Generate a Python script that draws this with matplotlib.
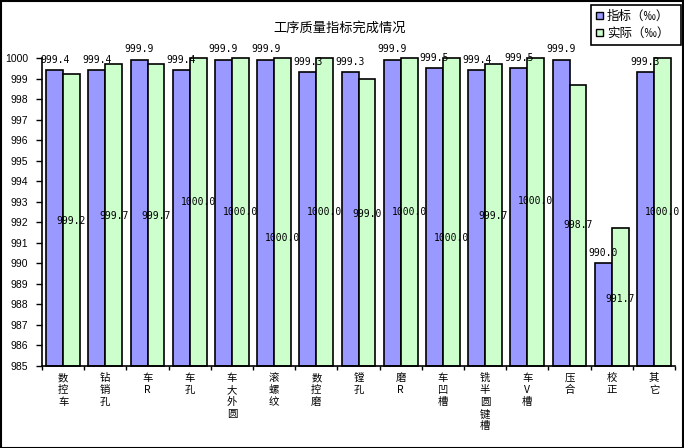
import matplotlib
matplotlib.use("Agg")
import matplotlib.pyplot as plt
from matplotlib.patches import Rectangle, Patch
import numpy as np

plt.rcParams['font.family'] = ['Noto Sans CJK SC', 'DejaVu Sans']

categories = ["数控车", "钻销孔", "车R", "车孔", "车大外圆", "滚螺纹", "数控磨", "镗孔",
              "磨R", "车凹槽", "铣半圆键槽", "车V槽", "压合", "校正", "其它"]
target = [999.4, 999.4, 999.9, 999.4, 999.9, 999.9, 999.3, 999.3,
          999.9, 999.5, 999.4, 999.5, 999.9, 990.0, 999.3]
actual = [999.2, 999.7, 999.7, 1000.0, 1000.0, 1000.0, 1000.0, 999.0,
          1000.0, 1000.0, 999.7, 1000.0, 998.7, 991.7, 1000.0]
series_names = ["指标（‰）", "实际（‰）"]
title = "工序质量指标完成情况"
ymin, ymax = 985, 1000

# manual nudges of the centred "actual" labels, in pixels (positive = down)
actual_label_nudge = [1, 1, 1, -10, 0, 26, 0, -8, 0, 26, 1, -11, 0, 2, 0]

W, H = 684, 448
fig = plt.figure(figsize=(W / 100, H / 100), dpi=100)
ax = fig.add_axes([42 / W, 1 - 366 / H, (675 - 42) / W, (366 - 58) / H])

x = np.arange(len(categories))
bw = 0.4
c1, c2 = "#9999FF", "#CCFFCC"
ax.bar(x - bw / 2, np.array(target) - ymin, bw, bottom=ymin, color=c1,
       edgecolor="black", linewidth=1.2, clip_on=False, zorder=2)
ax.bar(x + bw / 2, np.array(actual) - ymin, bw, bottom=ymin, color=c2,
       edgecolor="black", linewidth=1.2, clip_on=False, zorder=2)

mono = "DejaVu Sans Mono"
for xi, v in zip(x, target):
    ax.annotate(f"{v:.1f}", (xi - bw / 2, v), xytext=(0, 4), textcoords="offset points",
                ha="center", va="bottom", fontsize=7, family=mono, zorder=5,
                annotation_clip=False)
for xi, v, nd in zip(x, actual, actual_label_nudge):
    ax.annotate(f"{v:.1f}", (xi + bw / 2, (v + ymin) / 2), xytext=(0, -nd * 0.72),
                textcoords="offset points", ha="center", va="center",
                fontsize=7, family=mono, zorder=5)

ax.set_xlim(-0.5, len(categories) - 0.5)
ax.set_ylim(ymin, ymax)
ax.set_yticks(np.arange(ymin, ymax + 1, 1))
ax.set_yticklabels([str(v) for v in range(ymin, ymax + 1)], family="Liberation Sans", fontsize=7.5)
ax.tick_params(axis="y", direction="out", length=4, width=1, pad=6)

ax.set_xticks(x)
ax.set_xticklabels(["\n".join(c) for c in categories], fontsize=7.5, linespacing=1.25, va="top")
ax.tick_params(axis="x", which="major", length=0, pad=5)
ax.set_xticks(np.arange(-0.5, len(categories), 1), minor=True)
ax.tick_params(axis="x", which="minor", direction="out", length=3, width=1)

for s in ["top", "right"]:
    ax.spines[s].set_visible(False)
for s in ["left", "bottom"]:
    ax.spines[s].set_linewidth(1.2)
    ax.spines[s].set_color("black")

fig.text(340 / W, 1 - 28 / H, title, ha="center", va="center", fontsize=9.5)

handles = [Patch(facecolor=c1, edgecolor="black", linewidth=1),
           Patch(facecolor=c2, edgecolor="black", linewidth=1)]
leg = fig.legend(handles, series_names, loc="upper left", mode="expand",
                 bbox_to_anchor=(591 / W, 1 - 45 / H, 90 / W, 40 / H), borderaxespad=0,
                 fontsize=9, handlelength=0.55, handleheight=0.55, handletextpad=0.3,
                 borderpad=0.4, labelspacing=0.3, fancybox=False, framealpha=1)
leg.get_frame().set_edgecolor("black")
leg.get_frame().set_linewidth(1.2)

fig.patches.append(Rectangle((0.5 / W, 0.5 / H), 1 - 2 / W, 1 - 2 / H, transform=fig.transFigure,
                             fill=False, edgecolor="black", linewidth=1.5))

fig.savefig("out.png", dpi=100)
